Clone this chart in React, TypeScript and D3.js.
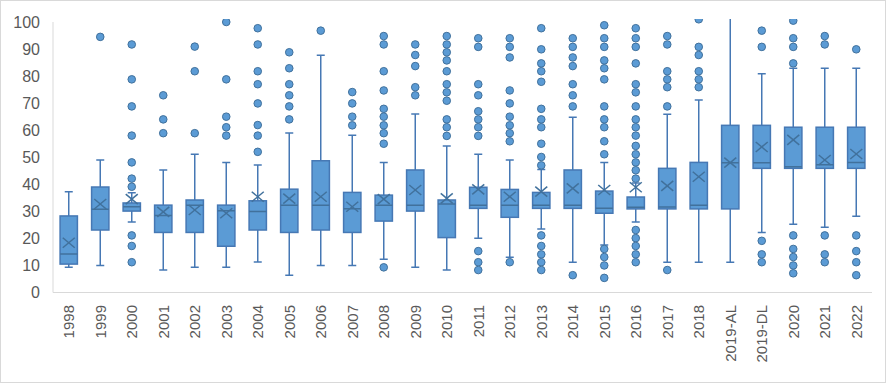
import * as d3 from 'd3';
import React from 'react';

const categories = [
    '1998', '1999', '2000', '2001', '2002', '2003', '2004', '2005', '2006',
    '2007', '2008', '2009', '2010', '2011', '2012', '2013', '2014', '2015',
    '2016', '2017', '2018', '2019-AL', '2019-DL', '2020', '2021', '2022',
];

const whiskerLow = [
    9.3, 10, 26.1, 8.3, 9.3, 9.3, 11.3, 6.4, 10, 10, 12.3, 9.3, 8.3, 20.1, 13,
    23.5, 11.2, 17.6, 26.1, 11.2, 11.2, 11.2, 22.2, 25.2, 24.1, 28.2,
];
const q1 = [
    10.5, 23.1, 30.1, 22.2, 22.2, 17.1, 23.1, 22.2, 23.1, 22.2, 26.4, 30.1,
    20.3, 31.1, 27.8, 31.1, 31.1, 29.3, 30.9, 30.9, 30.9, 30.9, 45.9, 45.9,
    45.9, 45.9,
];
const median = [
    14.2, 30.8, 31.7, 28.5, 32.3, 30.2, 29.9, 32.3, 32.3, 31, 32.3, 32.3,
    32.7, 32.3, 32.3, 32.3, 32.3, 31.1, 31.5, 31.6, 32.3, 48, 48, 46.5, 47.2,
    48.1,
];
const q3 = [
    28.3, 39, 33.1, 32.3, 34.2, 32.3, 33.9, 38.2, 48.7, 37, 36, 45.3, 34.2,
    38.9, 38.1, 37, 45.3, 37.5, 35.3, 45.9, 48.1, 61.8, 61.8, 61.1, 61.1, 61.1,
];
const mean = [
    18.4, 32.7, 34.5, 29.8, 30.5, 29.3, 35.4, 34.7, 35.4, 31.7, 34.5, 37.9,
    34.8, 38.1, 35.4, 37.3, 38.5, 37.9, 38.9, 39.4, 42.8, 48, 53.8, 56.4, 49,
    51.2,
];
const whiskerHigh = [
    37.2, 49, 36.9, 45.3, 51.1, 48.1, 47.1, 59, 87.7, 58.1, 48.1, 66, 54.2,
    51.1, 49, 45.5, 64.8, 48.1, 40.5, 65.9, 71.2, 106, 80.9, 82.9, 82.9, 82.9,
];

const outliers: number[][] = [
    [],
    [94.5],
    [91.7, 78.8, 68.8, 58, 48.1, 42.1, 39.1, 21.1, 17.2, 11.2],
    [72.9, 64, 58.9],
    [90.9, 81.8, 58.9],
    [100, 78.8, 65, 61.1, 58],
    [97.7, 91.7, 81.8, 77, 69.9, 61.9, 58, 52],
    [88.8, 82.9, 77, 72.9, 68.8, 64],
    [96.8],
    [74.1, 69.9, 65, 61.8],
    [94.8, 91.7, 81.8, 74.7, 67.9, 65, 61.8, 58.9, 55, 9.3],
    [91.7, 87.8, 83.7, 75.9, 72.9],
    [94.8, 91.7, 88.8, 85.8, 81.8, 77, 74, 70.9, 64, 61.1, 57.9],
    [94, 90.8, 77, 72.9, 67, 64, 61.1, 57.9, 15.3, 11.2, 8.3],
    [94, 90.8, 86.9, 74.7, 69.9, 65, 61.8, 58.9, 55.9, 11.2],
    [97.7, 89.9, 84.7, 81.8, 77.9, 67.9, 64, 61.1, 55, 50.1, 47, 21.1, 17.2, 14.1, 11.2, 8.3],
    [94, 90.8, 86.9, 83.7, 77, 72.9, 68.8, 6.4],
    [98.8, 94, 90.8, 85.8, 82.9, 78.8, 68.8, 64, 61.1, 55.9, 51.1, 16.1, 13.1, 10, 5.4],
    [97.7, 94, 90.8, 84.7, 77, 74, 68.8, 64, 61.1, 58, 54.2, 51.1, 48.1, 45.2, 42.1, 23.1, 20.1, 17.2, 14.1, 11.2],
    [94.8, 91.7, 81.8, 78.8, 75.9, 68.8, 8.3],
    [101, 90.8, 87.8, 81.8, 78.8, 75.9],
    [],
    [96.8, 90.8, 19.1, 14.1, 11.2],
    [100.5, 94, 90.8, 84.7, 21.1, 16.1, 13.1, 10, 7.1],
    [94.8, 91.7, 21.1, 14.1, 11.2],
    [89.9, 21.1, 15.3, 11.2, 6.4],
];

const yTicks = [0, 10, 20, 30, 40, 50, 60, 70, 80, 90, 100];

const W = 886;
const H = 384;
const plotLeft = 53;
const plotRight = 872;
const plotBottom = 292.5;
const plotTop = 22;

const fillBlue = '#5b9bd5';
const lineBlue = '#4678b4';
const darkBlue = '#41719c';
const labelGray = '#595959';
const axisGray = '#d9d9d9';

const App: React.FC = () => {
    const x = d3
        .scaleBand<string>()
        .domain(categories)
        .range([plotLeft, plotRight])
        .padding(0);
    const y = d3.scaleLinear().domain([0, 100]).range([plotBottom, plotTop]);

    const boxW = x.bandwidth() * 0.55;
    const capW = 8;
    const xHalfW = 6;
    const xHalfH = 5;

    return (
        <div>
            <style>{`body{margin:0}`}</style>
            <svg width={W} height={H} style={{ display: 'block', fontFamily: '"Liberation Sans", Arial, sans-serif' }}>
                <rect x={0.5} y={0.5} width={W - 1} height={H - 2} fill="white" stroke="#d9d9d9" />
                <defs>
                    <clipPath id="plotClip">
                        <rect x={plotLeft} y={19} width={plotRight - plotLeft} height={plotBottom - 19 + 2} />
                    </clipPath>
                </defs>

                {/* axes */}
                <line x1={plotLeft} x2={plotLeft} y1={plotTop} y2={plotBottom} stroke={axisGray} />
                <line x1={plotLeft} x2={plotRight} y1={plotBottom} y2={plotBottom} stroke={axisGray} />

                {yTicks.map((t) => (
                    <text
                        key={t}
                        x={40}
                        y={y(t)}
                        dy="0.35em"
                        textAnchor="end"
                        fontSize={16}
                        fill={labelGray}
                    >
                        {t}
                    </text>
                ))}

                {categories.map((c) => {
                    const cx = (x(c) ?? 0) + x.bandwidth() / 2;
                    return (
                        <text
                            key={c}
                            transform={`translate(${cx},305) rotate(-90)`}
                            textAnchor="end"
                            dy="0.35em"
                            fontSize={15}
                            fill={labelGray}
                        >
                            {c}
                        </text>
                    );
                })}

                <g clipPath="url(#plotClip)">
                    {categories.map((c, i) => {
                        const cx = (x(c) ?? 0) + x.bandwidth() / 2;
                        const ym = y(mean[i]);
                        return (
                            <g key={c}>
                                <line x1={cx} x2={cx} y1={y(whiskerHigh[i])} y2={y(q3[i])} stroke={lineBlue} strokeWidth={1.5} />
                                <line x1={cx} x2={cx} y1={y(q1[i])} y2={y(whiskerLow[i])} stroke={lineBlue} strokeWidth={1.5} />
                                <line x1={cx - capW / 2} x2={cx + capW / 2} y1={y(whiskerHigh[i])} y2={y(whiskerHigh[i])} stroke={lineBlue} strokeWidth={1.5} />
                                <line x1={cx - capW / 2} x2={cx + capW / 2} y1={y(whiskerLow[i])} y2={y(whiskerLow[i])} stroke={lineBlue} strokeWidth={1.5} />
                                <rect
                                    x={cx - boxW / 2}
                                    y={y(q3[i])}
                                    width={boxW}
                                    height={y(q1[i]) - y(q3[i])}
                                    fill={fillBlue}
                                    stroke={lineBlue}
                                    strokeWidth={1.5}
                                />
                                <line x1={cx - boxW / 2} x2={cx + boxW / 2} y1={y(median[i])} y2={y(median[i])} stroke={darkBlue} strokeWidth={1.5} />
                                <line x1={cx - xHalfW} x2={cx + xHalfW} y1={ym - xHalfH} y2={ym + xHalfH} stroke={darkBlue} strokeWidth={1.5} />
                                <line x1={cx - xHalfW} x2={cx + xHalfW} y1={ym + xHalfH} y2={ym - xHalfH} stroke={darkBlue} strokeWidth={1.5} />
                                {outliers[i].map((v, j) => (
                                    <circle key={j} cx={cx} cy={y(v)} r={3.8} fill={fillBlue} stroke={darkBlue} strokeWidth={1} />
                                ))}
                            </g>
                        );
                    })}
                </g>
            </svg>
        </div>
    );
};

export default App;
